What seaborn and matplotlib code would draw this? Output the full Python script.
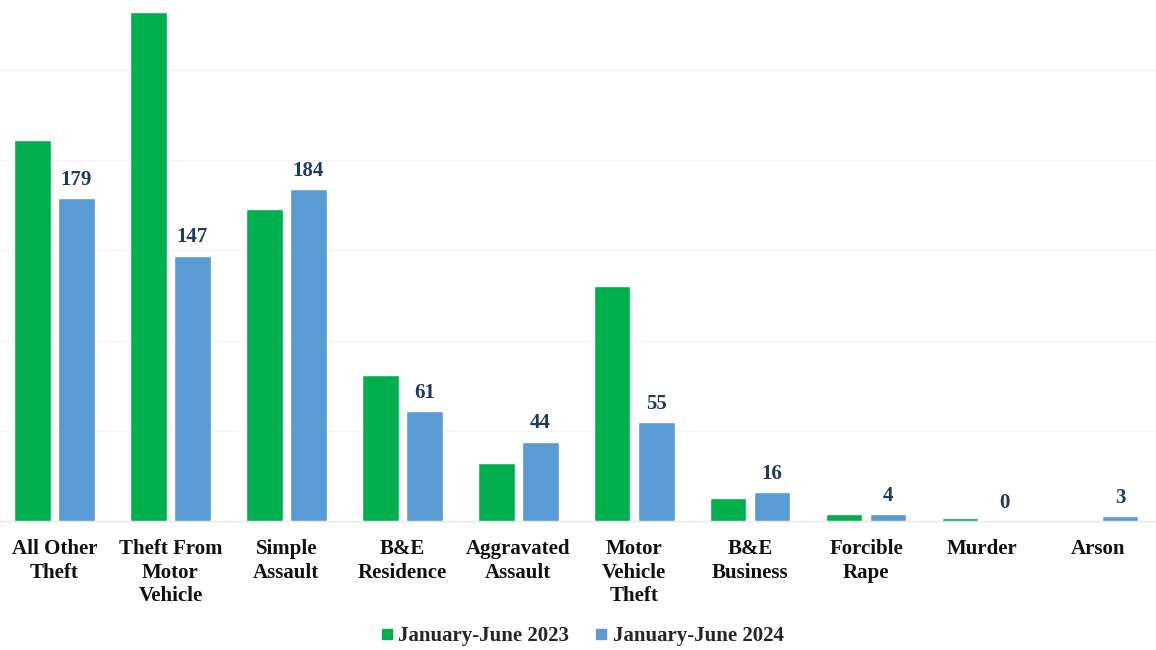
import matplotlib
matplotlib.use("Agg")
import matplotlib.pyplot as plt
import seaborn as sns
import pandas as pd
from matplotlib.lines import Line2D

# Offence categories and counts for the two half-year periods
categories = [
    "All Other\nTheft", "Theft From\nMotor\nVehicle", "Simple\nAssault",
    "B&E\nResidence", "Aggravated\nAssault", "Motor\nVehicle\nTheft",
    "B&E\nBusiness", "Forcible\nRape", "Murder", "Arson",
]
counts_2023 = [211, 282, 173, 81, 32, 130, 13, 4, 2, 0]
counts_2024 = [179, 147, 184, 61, 44, 55, 16, 4, 0, 3]
period_labels = ["January-June 2023", "January-June 2024"]

GREEN = "#00b04f"
BLUE = "#5b9bd5"
NAVY = "#1f3864"

df = pd.DataFrame({
    "category": categories * 2,
    "count": counts_2023 + counts_2024,
    "period": [period_labels[0]] * len(categories) + [period_labels[1]] * len(categories),
})

sns.set_theme(style="white")
plt.rcParams["font.family"] = ["Liberation Serif", "DejaVu Serif"]
plt.rcParams["font.weight"] = "bold"

fig = plt.figure(figsize=(11.56, 6.5), dpi=100)
fig.patch.set_facecolor("white")
ax = fig.add_axes([0.0, 0.198, 1.0, 0.802])

sns.barplot(
    data=df, x="category", y="count", hue="period",
    palette=[GREEN, BLUE], width=0.76, gap=0.17,
    saturation=1.0, ax=ax, legend=False, zorder=3,
)

ax.set_xlim(-0.47, 9.5)
ax.set_ylim(0, 288.6)
ax.set_yticks([50, 100, 150, 200, 250])
ax.yaxis.grid(True, color="#f4f4f4", linewidth=1.0, zorder=0)
ax.set_yticklabels([])
ax.tick_params(axis="y", length=0)
ax.set_xlabel("")
ax.set_ylabel("")
for side in ["top", "right", "left"]:
    ax.spines[side].set_visible(False)
ax.spines["bottom"].set_color("#e8e8e8")
ax.spines["bottom"].set_linewidth(1.0)

ax.tick_params(axis="x", length=0, pad=13)
for lbl in ax.get_xticklabels():
    lbl.set_fontsize(15)
    lbl.set_fontweight("bold")
    lbl.set_color("#111111")
    lbl.set_linespacing(1.22)

# Value labels on the 2024 bars only
blue_container = ax.containers[1]
ax.bar_label(blue_container, labels=[str(v) for v in counts_2024],
             padding=6, fontsize=15, fontweight="bold", color=NAVY)

handles = [
    Line2D([0], [0], marker="s", linestyle="", markersize=7.5,
           markerfacecolor=GREEN, markeredgecolor=GREEN),
    Line2D([0], [0], marker="s", linestyle="", markersize=7.5,
           markerfacecolor=BLUE, markeredgecolor=BLUE),
]
fig.legend(handles, period_labels, loc="center", bbox_to_anchor=(0.503, 0.021),
           ncol=2, frameon=False, handletextpad=0.2, columnspacing=1.2,
           handlelength=0.7,
           prop={"family": "Liberation Serif", "weight": "bold", "size": 15})

fig.savefig("out.png", dpi=100, facecolor="white")
